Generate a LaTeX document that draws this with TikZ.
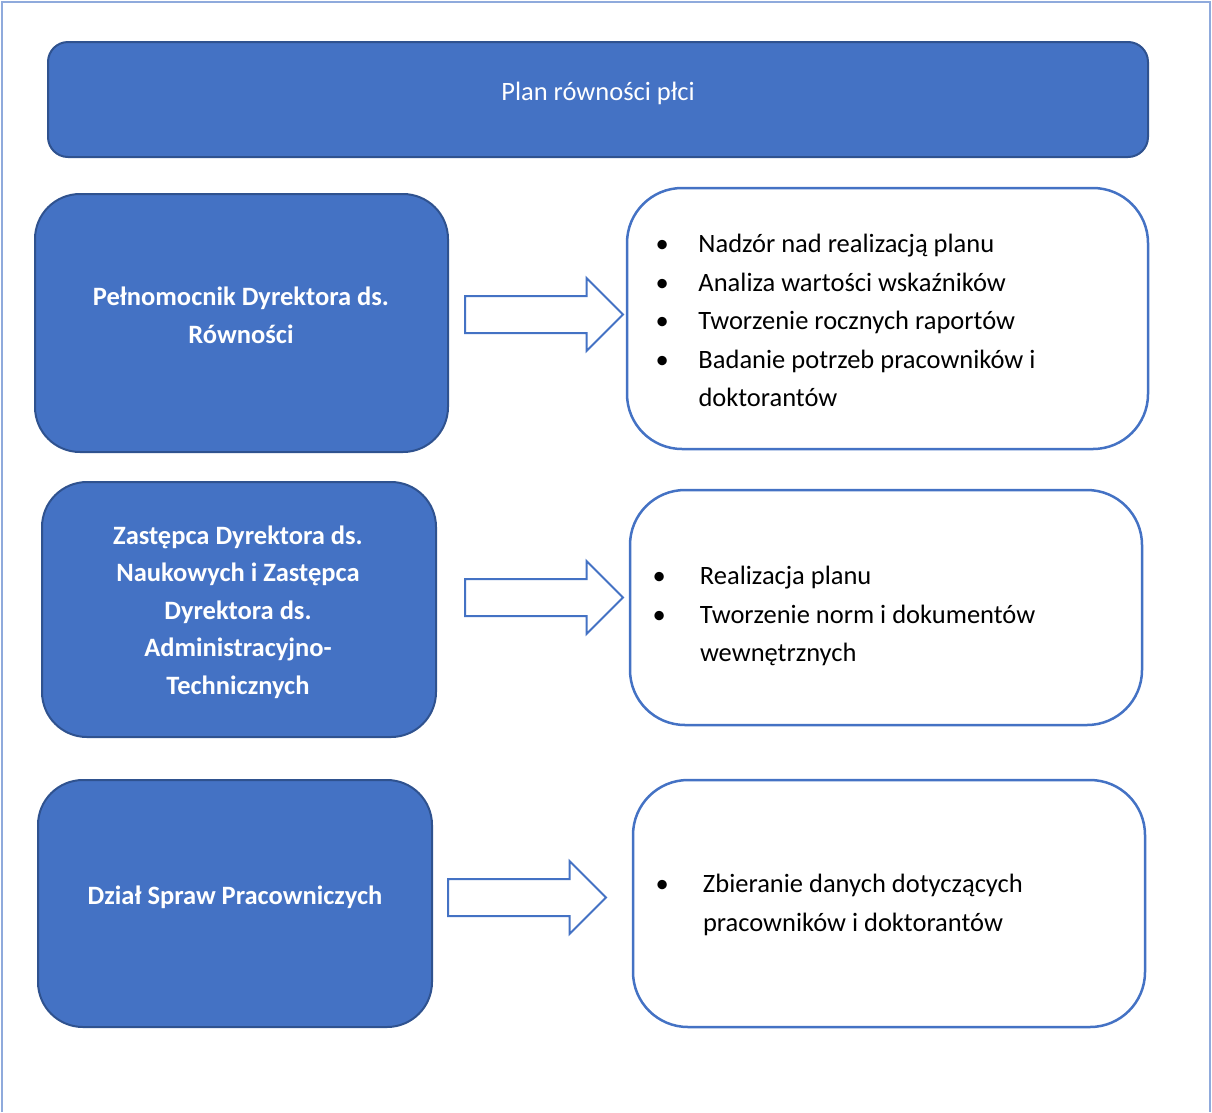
\documentclass[tikz,border=0pt]{standalone}
\usepackage{fontspec}
\setmainfont{Carlito}
\usetikzlibrary{shapes.arrows}

\definecolor{officeblue}{HTML}{4472C4}
\definecolor{officedark}{HTML}{2F528F}
\definecolor{framelight}{HTML}{8FAADC}

\newlength\itmind
\setlength\itmind{43pt}
\newcommand\itm[1]{\makebox[\itmind][l]{\textbullet}#1}
\newcommand\cnt[1]{\hspace*{\itmind}#1}

\begin{document}
\begin{tikzpicture}[
        x=1pt, y=-1pt, line width=2pt,
        bluebox/.style={draw=officedark, fill=officeblue,
            rounded corners=45pt, inner sep=0pt},
        boxtext/.style={text=white, align=flush center, inner sep=0pt,
            font=\fontsize{26.5}{37.5}\selectfont\bfseries},
        listbox/.style={draw=officeblue, fill=white, line width=2.5pt,
            rounded corners=55pt, inner sep=0pt},
        listtext/.style={align=flush left, text width=480pt, inner sep=0pt,
            font=\fontsize{26.5}{38.5}\selectfont\setlength\itmind{#1}},
        listtext/.default=43pt,
        blockarrow/.style={single arrow, draw=officeblue, fill=white,
            inner sep=0pt, inner ysep=17.5pt, single arrow head extend=18pt,
            minimum height=158pt}
    ]
    \useasboundingbox (0,0) rectangle (1212,1112);
    \draw[framelight] (2,1112) -- (2,2) -- (1210,2) -- (1210,1112);

    % naglowek
    \node[bluebox, rounded corners=20pt, minimum width=1100pt,
        minimum height=115pt] (plan) at (598,99.5) {};
    \node[boxtext, font=\fontsize{26.5}{30}\selectfont] (planTxt) at (598,93)
        {Plan równości płci};

    % wiersz 1
    \node[bluebox, minimum width=413pt, minimum height=258pt]
        (pelnomocnik) at (241.5,323) {};
    \node[boxtext] (pelnomocnikTxt) at (241,315.5)
        {Pełnomocnik Dyrektora ds.\\Równości};
    \node[blockarrow, anchor=tail] (strzalka1) at (464,314.5) {};
    \node[listbox, minimum width=521pt, minimum height=261pt]
        (zadania1) at (887.5,318.5) {};
    \node[listtext] (zadania1Txt) at (895.5,320.5)
        {\itm{Nadzór nad realizacją planu}\\
        \itm{Analiza wartości wskaźników}\\
        \itm{Tworzenie rocznych raportów}\\
        \itm{Badanie potrzeb pracowników i}\\
        \cnt{doktorantów}};

    % wiersz 2
    \node[bluebox, minimum width=394pt, minimum height=255pt]
        (zastepca) at (239,609.5) {};
    \node[boxtext] (zastepcaTxt) at (238,612)
        {Zastępca Dyrektora ds.\\Naukowych i Zastępca\\
        Dyrektora ds.\\Administracyjno-\\Technicznych};
    \node[blockarrow, anchor=tail] (strzalka2) at (464,597.5) {};
    \node[listbox, minimum width=512pt, minimum height=235pt]
        (zadania2) at (886,607.5) {};
    \node[listtext=47.5pt] (zadania2Txt) at (892.5,616)
        {\itm{Realizacja planu}\\
        \itm{Tworzenie norm i dokumentów}\\
        \cnt{wewnętrznych}};

    % wiersz 3
    \node[bluebox, minimum width=394pt, minimum height=247pt]
        (dzial) at (235,903.5) {};
    \node[boxtext] (dzialTxt) at (235,897.5) {Dział Spraw Pracowniczych};
    \node[blockarrow, anchor=tail] (strzalka3) at (447,897.5) {};
    \node[listbox, minimum width=512pt, minimum height=247pt]
        (zadania3) at (889,903.5) {};
    \node[listtext=47.5pt] (zadania3Txt) at (895.5,905)
        {\itm{Zbieranie danych dotyczących}\\
        \cnt{pracowników i doktorantów}};

\end{tikzpicture}
\end{document}
